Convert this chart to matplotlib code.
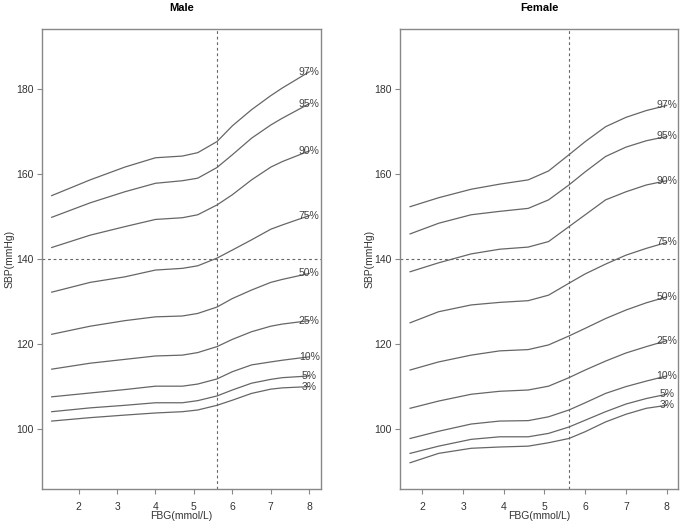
import numpy as np
import matplotlib
matplotlib.use("Agg")
import matplotlib.pyplot as plt

plt.rcParams['font.family'] = ['Liberation Sans', 'DejaVu Sans']

# percentile labels (top to bottom)
pct_labels = ["97%", "95%", "90%", "75%", "50%", "25%", "10%", "5%", "3%"]

male_x = [1.3, 2.3, 3.2, 4.0, 4.7, 5.1, 5.6, 6.0, 6.5, 7.0, 7.3, 8.0]
male_97 = [154.9, 158.6, 161.6, 163.8, 164.2, 165.0, 167.6, 171.3, 175.1, 178.4, 180.2, 184.0]
male_95 = [149.8, 153.2, 155.8, 157.8, 158.4, 159.0, 161.5, 164.5, 168.4, 171.5, 173.1, 176.5]
male_90 = [142.7, 145.6, 147.6, 149.3, 149.7, 150.4, 152.7, 155.1, 158.6, 161.6, 162.9, 165.4]
male_75 = [132.2, 134.5, 135.8, 137.4, 137.8, 138.4, 140.2, 142.1, 144.5, 147.0, 148.0, 150.2]
male_50 = [122.3, 124.2, 125.5, 126.4, 126.6, 127.2, 128.7, 130.7, 132.7, 134.5, 135.2, 136.6]
male_25 = [114.1, 115.5, 116.4, 117.2, 117.4, 118.0, 119.4, 121.1, 122.9, 124.2, 124.7, 125.5]
male_10 = [107.6, 108.5, 109.3, 110.1, 110.1, 110.6, 111.8, 113.5, 115.1, 115.8, 116.2, 117.0]
male_5 = [104.1, 105.0, 105.6, 106.2, 106.2, 106.7, 107.8, 109.2, 110.8, 111.7, 112.1, 112.5]
male_3 = [101.9, 102.7, 103.3, 103.8, 104.1, 104.5, 105.6, 106.8, 108.4, 109.4, 109.7, 110.0]

# Female
female_x = [1.7, 2.4, 3.2, 3.9, 4.6, 5.1, 5.6, 6.0, 6.5, 7.0, 7.5, 8.0]
female_97 = [152.3, 154.4, 156.4, 157.6, 158.6, 160.7, 164.5, 167.6, 171.1, 173.3, 174.9, 176.1]
female_95 = [145.9, 148.4, 150.4, 151.2, 151.9, 153.9, 157.4, 160.5, 164.1, 166.3, 167.8, 168.8]
female_90 = [137.0, 139.1, 141.2, 142.3, 142.8, 144.1, 147.6, 150.4, 153.9, 155.8, 157.4, 158.4]
female_75 = [125.0, 127.6, 129.2, 129.8, 130.2, 131.5, 134.3, 136.5, 138.8, 140.9, 142.5, 143.9]
female_50 = [113.9, 115.8, 117.4, 118.4, 118.7, 119.8, 121.9, 123.7, 126.0, 128.0, 129.7, 131.1]
female_25 = [104.9, 106.6, 108.2, 108.9, 109.2, 110.1, 112.1, 113.9, 116.0, 117.9, 119.4, 120.8]
female_10 = [97.8, 99.5, 101.2, 101.9, 102.0, 102.9, 104.5, 106.2, 108.4, 110.0, 111.3, 112.5]
female_5 = [94.3, 96.0, 97.6, 98.2, 98.2, 99.0, 100.5, 102.1, 104.1, 105.9, 107.2, 108.2]
female_3 = [92.1, 94.3, 95.5, 95.8, 96.0, 96.8, 97.8, 99.4, 101.7, 103.5, 104.9, 105.6]

male_curves = [male_97, male_95, male_90, male_75, male_50, male_25, male_10, male_5, male_3]
female_curves = [female_97, female_95, female_90, female_75, female_50, female_25, female_10, female_5, female_3]

fbg_cut = 5.6
sbp_cut = 140
y_ticks = [100, 120, 140, 160, 180]
x_ticks = [2, 3, 4, 5, 6, 7, 8]

line_col = "#666666"
frame_col = "#888888"

fig = plt.figure(figsize=(6.85, 5.27), dpi=100)
ax_m = fig.add_axes([0.0609, 0.0727, 0.4073, 0.8717])
ax_f = fig.add_axes([0.5835, 0.0727, 0.4067, 0.8717])


def draw_panel(ax, xs, curves, title, xlim, ylab_x):
    for vals, lab in zip(curves, pct_labels):
        ax.plot(xs, vals, color=line_col, lw=0.9)
        ax.text(xs[-1], vals[-1], lab, ha="center", va="center",
                fontsize=7.5, color="#444444")
    ax.axvline(fbg_cut, color="#666666", lw=0.8, ls=(0, (2.5, 2.5)))
    ax.axhline(sbp_cut, color="#666666", lw=0.8, ls=(0, (2.5, 2.5)))
    ax.set_xlim(*xlim)
    ax.set_ylim(86, 194)
    ax.set_xticks(x_ticks)
    ax.set_yticks(y_ticks)
    ax.tick_params(axis="both", direction="out", length=3.5, width=0.8,
                   color=frame_col, labelsize=7.5, labelcolor="#333333")
    ax.tick_params(axis="x", pad=6)
    ax.tick_params(axis="y", pad=2)
    for s in ax.spines.values():
        s.set_color(frame_col)
        s.set_linewidth(1.0)
    ax.set_title(title, fontsize=8, fontweight="bold", pad=13)
    ax.set_xlabel("FBG(mmol/L)", fontsize=7.5, color="#333333")
    ax.set_ylabel("SBP(mmHg)", fontsize=7.5, color="#333333")
    ax.xaxis.set_label_coords(0.5, -0.049)
    ax.yaxis.set_label_coords(ylab_x, 0.5)


draw_panel(ax_m, male_x, male_curves, "Male", (1.04, 8.30), -0.096)
draw_panel(ax_f, female_x, female_curves, "Female", (1.445, 8.285), -0.089)

fig.savefig("out.png", dpi=100)
